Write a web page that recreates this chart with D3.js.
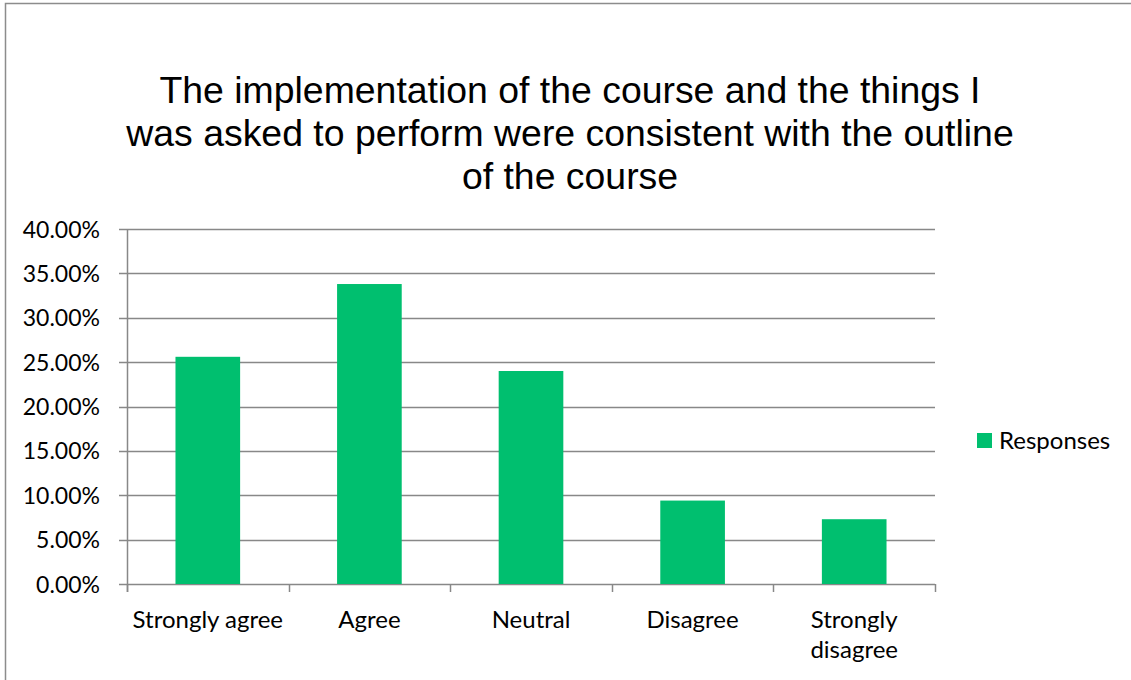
<!DOCTYPE html>
<html>
<head>
<meta charset="utf-8">
<script src="https://cdn.jsdelivr.net/npm/d3@7"></script>
<style>
  body { margin: 0; background: #fff; }
</style>
</head>
<body>
<div id="chart"></div>
<script>
// data
const categories = ["Strongly agree", "Agree", "Neutral", "Disagree", "Strongly disagree"];
const responses = [25.6, 33.8, 24.0, 9.4, 7.3];
const yTicks = [0, 5, 10, 15, 20, 25, 30, 35, 40];
const titleLines = [
    "The implementation of the course and the things I",
    "was asked to perform were consistent with the outline",
    "of the course"
];
const seriesName = "Responses";

const W = 1131, H = 680;
const plot = {left: 127, right: 935, top: 229, bottom: 584};
const green = "#00bf6f";
const gridColor = "#888888";
const labelFont = "Lato, 'Open Sans', sans-serif";
const labelSize = 24;

const svg = d3.select("#chart")
    .append("svg")
    .attr("width", W)
    .attr("height", H);

// outer chart border
svg.append("rect")
    .attr("x", 5.5).attr("y", 3.5)
    .attr("width", W + 10).attr("height", H + 10)
    .attr("fill", "none")
    .attr("stroke", "#8c8c8c")
    .attr("stroke-width", 1.5);

// title
svg.append("text")
    .attr("text-anchor", "middle")
    .attr("font-family", "'Liberation Sans', Arial, sans-serif")
    .attr("font-size", 37.4)
    .attr("fill", "#000")
    .selectAll("tspan")
    .data(titleLines)
    .enter()
    .append("tspan")
    .attr("x", 570)
    .attr("y", (d, i) => 103 + i * 43)
    .text(d => d);

// scales
const x = d3.scaleBand()
    .domain(categories)
    .range([plot.left, plot.right])
    .paddingInner(0)
    .paddingOuter(0);

const y = d3.scaleLinear()
    .domain([0, 40])
    .range([plot.bottom, plot.top]);

// gridlines
svg.append("g")
    .selectAll("line")
    .data(yTicks)
    .enter()
    .append("line")
    .attr("x1", plot.left - 8)
    .attr("x2", plot.right)
    .attr("y1", d => Math.round(y(d)) + 0.5)
    .attr("y2", d => Math.round(y(d)) + 0.5)
    .attr("stroke", gridColor)
    .attr("stroke-width", 1.5);

// y axis labels
const yAxis = svg.append("g")
    .attr("transform", `translate(${plot.left},0)`)
    .call(d3.axisLeft(y).tickValues(yTicks).tickSize(0).tickPadding(27)
        .tickFormat(d => d.toFixed(2) + "%"));
yAxis.select(".domain").remove();
yAxis.selectAll("text")
    .attr("font-family", labelFont)
    .attr("font-size", 23)
    .attr("fill", "#000")
    .attr("dy", "0.35em");

// y axis line
svg.append("line")
    .attr("x1", plot.left + 0.5).attr("x2", plot.left + 0.5)
    .attr("y1", plot.top).attr("y2", plot.bottom + 8)
    .attr("stroke", gridColor)
    .attr("stroke-width", 1.5);

// x axis category ticks at band edges
const edges = categories.map(c => x(c)).concat([plot.right]);
svg.append("g")
    .selectAll("line")
    .data(edges)
    .enter()
    .append("line")
    .attr("x1", d => Math.round(d) + 0.5)
    .attr("x2", d => Math.round(d) + 0.5)
    .attr("y1", plot.bottom)
    .attr("y2", plot.bottom + 8)
    .attr("stroke", gridColor)
    .attr("stroke-width", 1.5);

// bars (gap width 150%)
const barW = x.bandwidth() / 2.5;
svg.append("g")
    .selectAll("rect")
    .data(responses)
    .enter()
    .append("rect")
    .attr("x", (d, i) => x(categories[i]) + (x.bandwidth() - barW) / 2)
    .attr("y", d => y(d))
    .attr("width", barW)
    .attr("height", d => y(0) - y(d))
    .attr("fill", green);

// x labels, wrapped like the original
const xLabels = svg.append("g")
    .attr("font-family", labelFont)
    .attr("font-size", labelSize)
    .attr("fill", "#000")
    .attr("text-anchor", "middle");
categories.forEach(c => {
    const cx = x(c) + x.bandwidth() / 2;
    const lines = c === "Strongly disagree" ? ["Strongly", "disagree"] : [c];
    const t = xLabels.append("text");
    lines.forEach((l, i) => {
        t.append("tspan")
            .attr("x", cx)
            .attr("y", 628 + i * 30)
            .text(l);
    });
});

// legend
const legend = svg.append("g");
legend.append("rect")
    .attr("x", 977).attr("y", 433)
    .attr("width", 15).attr("height", 15)
    .attr("fill", green);
legend.append("text")
    .attr("x", 999).attr("y", 449)
    .attr("font-family", labelFont)
    .attr("font-size", labelSize)
    .attr("fill", "#000")
    .text(seriesName);
</script>
</body>
</html>
